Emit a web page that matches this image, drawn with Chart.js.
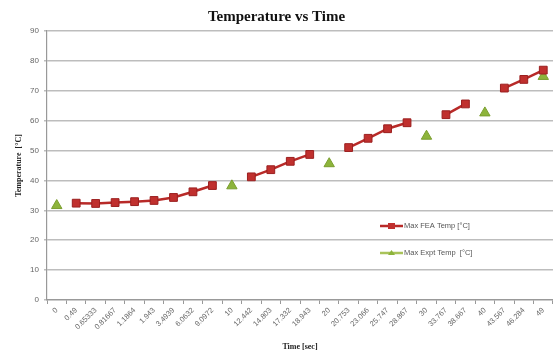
<!DOCTYPE html>
<html><head><meta charset="utf-8">
<script src="https://cdn.jsdelivr.net/npm/chart.js@4/dist/chart.umd.min.js"></script>
<style>html,body{margin:0;padding:0;background:#fff}#wrap{width:553px;height:352px}</style>
</head><body><div id="wrap"><canvas id="c" width="553" height="352"></canvas></div>
<script>
const timeLabels = ["0","0.49","0.65333","0.81667","1.1864","1.943","3.4939","6.0632","9.0972","10","12.442","14.803","17.332","18.943","20","20.753","23.066","25.747","28.867","30","33.767","38.667","40","43.567","46.284","49"];
const feaTemp = [null,32.4,32.3,32.6,32.9,33.3,34.3,36.2,38.3,null,41.2,43.6,46.4,48.7,null,51.0,54.1,57.3,59.3,null,62.0,65.6,null,70.9,73.8,76.9];
const exptTemp = [31.6,null,null,null,null,null,null,null,null,38.2,null,null,null,null,45.6,null,null,null,null,54.8,null,null,62.6,null,null,74.8];
const yTicks = [0,10,20,30,40,50,60,70,80,90];

const feaFill = '#c0302e', feaBorder = '#9b1f1f', feaLine = '#b82a28';
const exFill = '#8db43b', exBorder = '#7a9e2e';

const legendPlugin = {
  id: 'inLegend',
  afterDraw(chart) {
    const ctx = chart.ctx;
    const items = [
      {label: chart.data.datasets[0].label, y: 226, color: feaLine, fill: feaFill, shape: 'rect'},
      {label: chart.data.datasets[1].label, y: 253, color: '#a9c35a', fill: exFill, shape: 'tri'}
    ];
    ctx.save();
    items.forEach(it => {
      ctx.strokeStyle = it.color; ctx.lineWidth = 2.5;
      ctx.beginPath(); ctx.moveTo(380, it.y); ctx.lineTo(403, it.y); ctx.stroke();
      ctx.fillStyle = it.fill;
      if (it.shape === 'rect') { ctx.fillRect(388, it.y - 3, 7, 6); }
      else { ctx.beginPath(); ctx.moveTo(391.5, it.y - 3); ctx.lineTo(395, it.y + 2); ctx.lineTo(388, it.y + 2); ctx.closePath(); ctx.fill(); }
      ctx.fillStyle = '#555'; ctx.font = '7.5px "Liberation Sans", Arial, sans-serif';
      ctx.textBaseline = 'middle'; ctx.textAlign = 'left';
      ctx.fillText(it.label, 404, it.y);
    });
    ctx.restore();
  }
};

new Chart(document.getElementById('c'), {
  type: 'line',
  data: {
    labels: timeLabels,
    datasets: [
      {label: 'Max FEA Temp [\u00B0C]', data: feaTemp, borderColor: feaLine, borderWidth: 2.5,
       pointStyle: 'rect', pointRadius: 5.5, pointBackgroundColor: feaFill, pointBorderColor: feaBorder, pointBorderWidth: 1,
       spanGaps: false, tension: 0},
      {label: 'Max Expt Temp  [\u00B0C]', data: exptTemp, showLine: false, borderColor: exBorder,
       pointStyle: 'triangle', pointRadius: 6, pointBackgroundColor: exFill, pointBorderColor: exBorder, pointBorderWidth: 1}
    ]
  },
  options: {
    responsive: false, animation: false, devicePixelRatio: 1,
    layout: {autoPadding: false, padding: {left: 0, right: 0, top: 0, bottom: 0}},
    plugins: {
      legend: {display: false}, tooltip: {enabled: false},
      title: {display: true, text: 'Temperature vs Time', color: '#111',
        font: {family: '"Liberation Serif", "Times New Roman", serif', size: 15, weight: 'bold'}, padding: {top: 8, bottom: 5}}
    },
    scales: {
      x: {
        offset: true,
        grid: {display: true, drawOnChartArea: false, offset: true, tickLength: 4, color: '#999'},
        border: {color: '#999', width: 1.2},
        ticks: {autoSkip: false, minRotation: 45, maxRotation: 45, color: '#666', padding: 2,
          font: {family: '"Liberation Sans", Arial, sans-serif', size: 7.5}},
        title: {display: true, text: 'Time [sec]', color: '#222', padding: {top: 0, bottom: 0},
          font: {family: '"Liberation Serif", "Times New Roman", serif', size: 8, weight: 'bold'}},
        afterFit(s) { s.height = 52; s.paddingLeft = 0; s.paddingRight = 0; }
      },
      y: {
        min: 0, max: 90,
        afterBuildTicks(s) { s.ticks = yTicks.map(v => ({value: v})); },
        grid: {color: '#bdbdbd', lineWidth: 1.5, tickLength: 3},
        border: {color: '#999', width: 1.2},
        ticks: {color: '#666', padding: 5, font: {family: '"Liberation Sans", Arial, sans-serif', size: 8}},
        title: {display: true, text: 'Temperature  [\u00B0C]', color: '#222', padding: {top: 14, bottom: 0},
          font: {family: '"Liberation Serif", "Times New Roman", serif', size: 8, weight: 'bold'}},
        afterFit(s) { s.width = 47; s.paddingTop = 0; s.paddingBottom = 0; }
      }
    }
  },
  plugins: [legendPlugin]
});
</script></body></html>
